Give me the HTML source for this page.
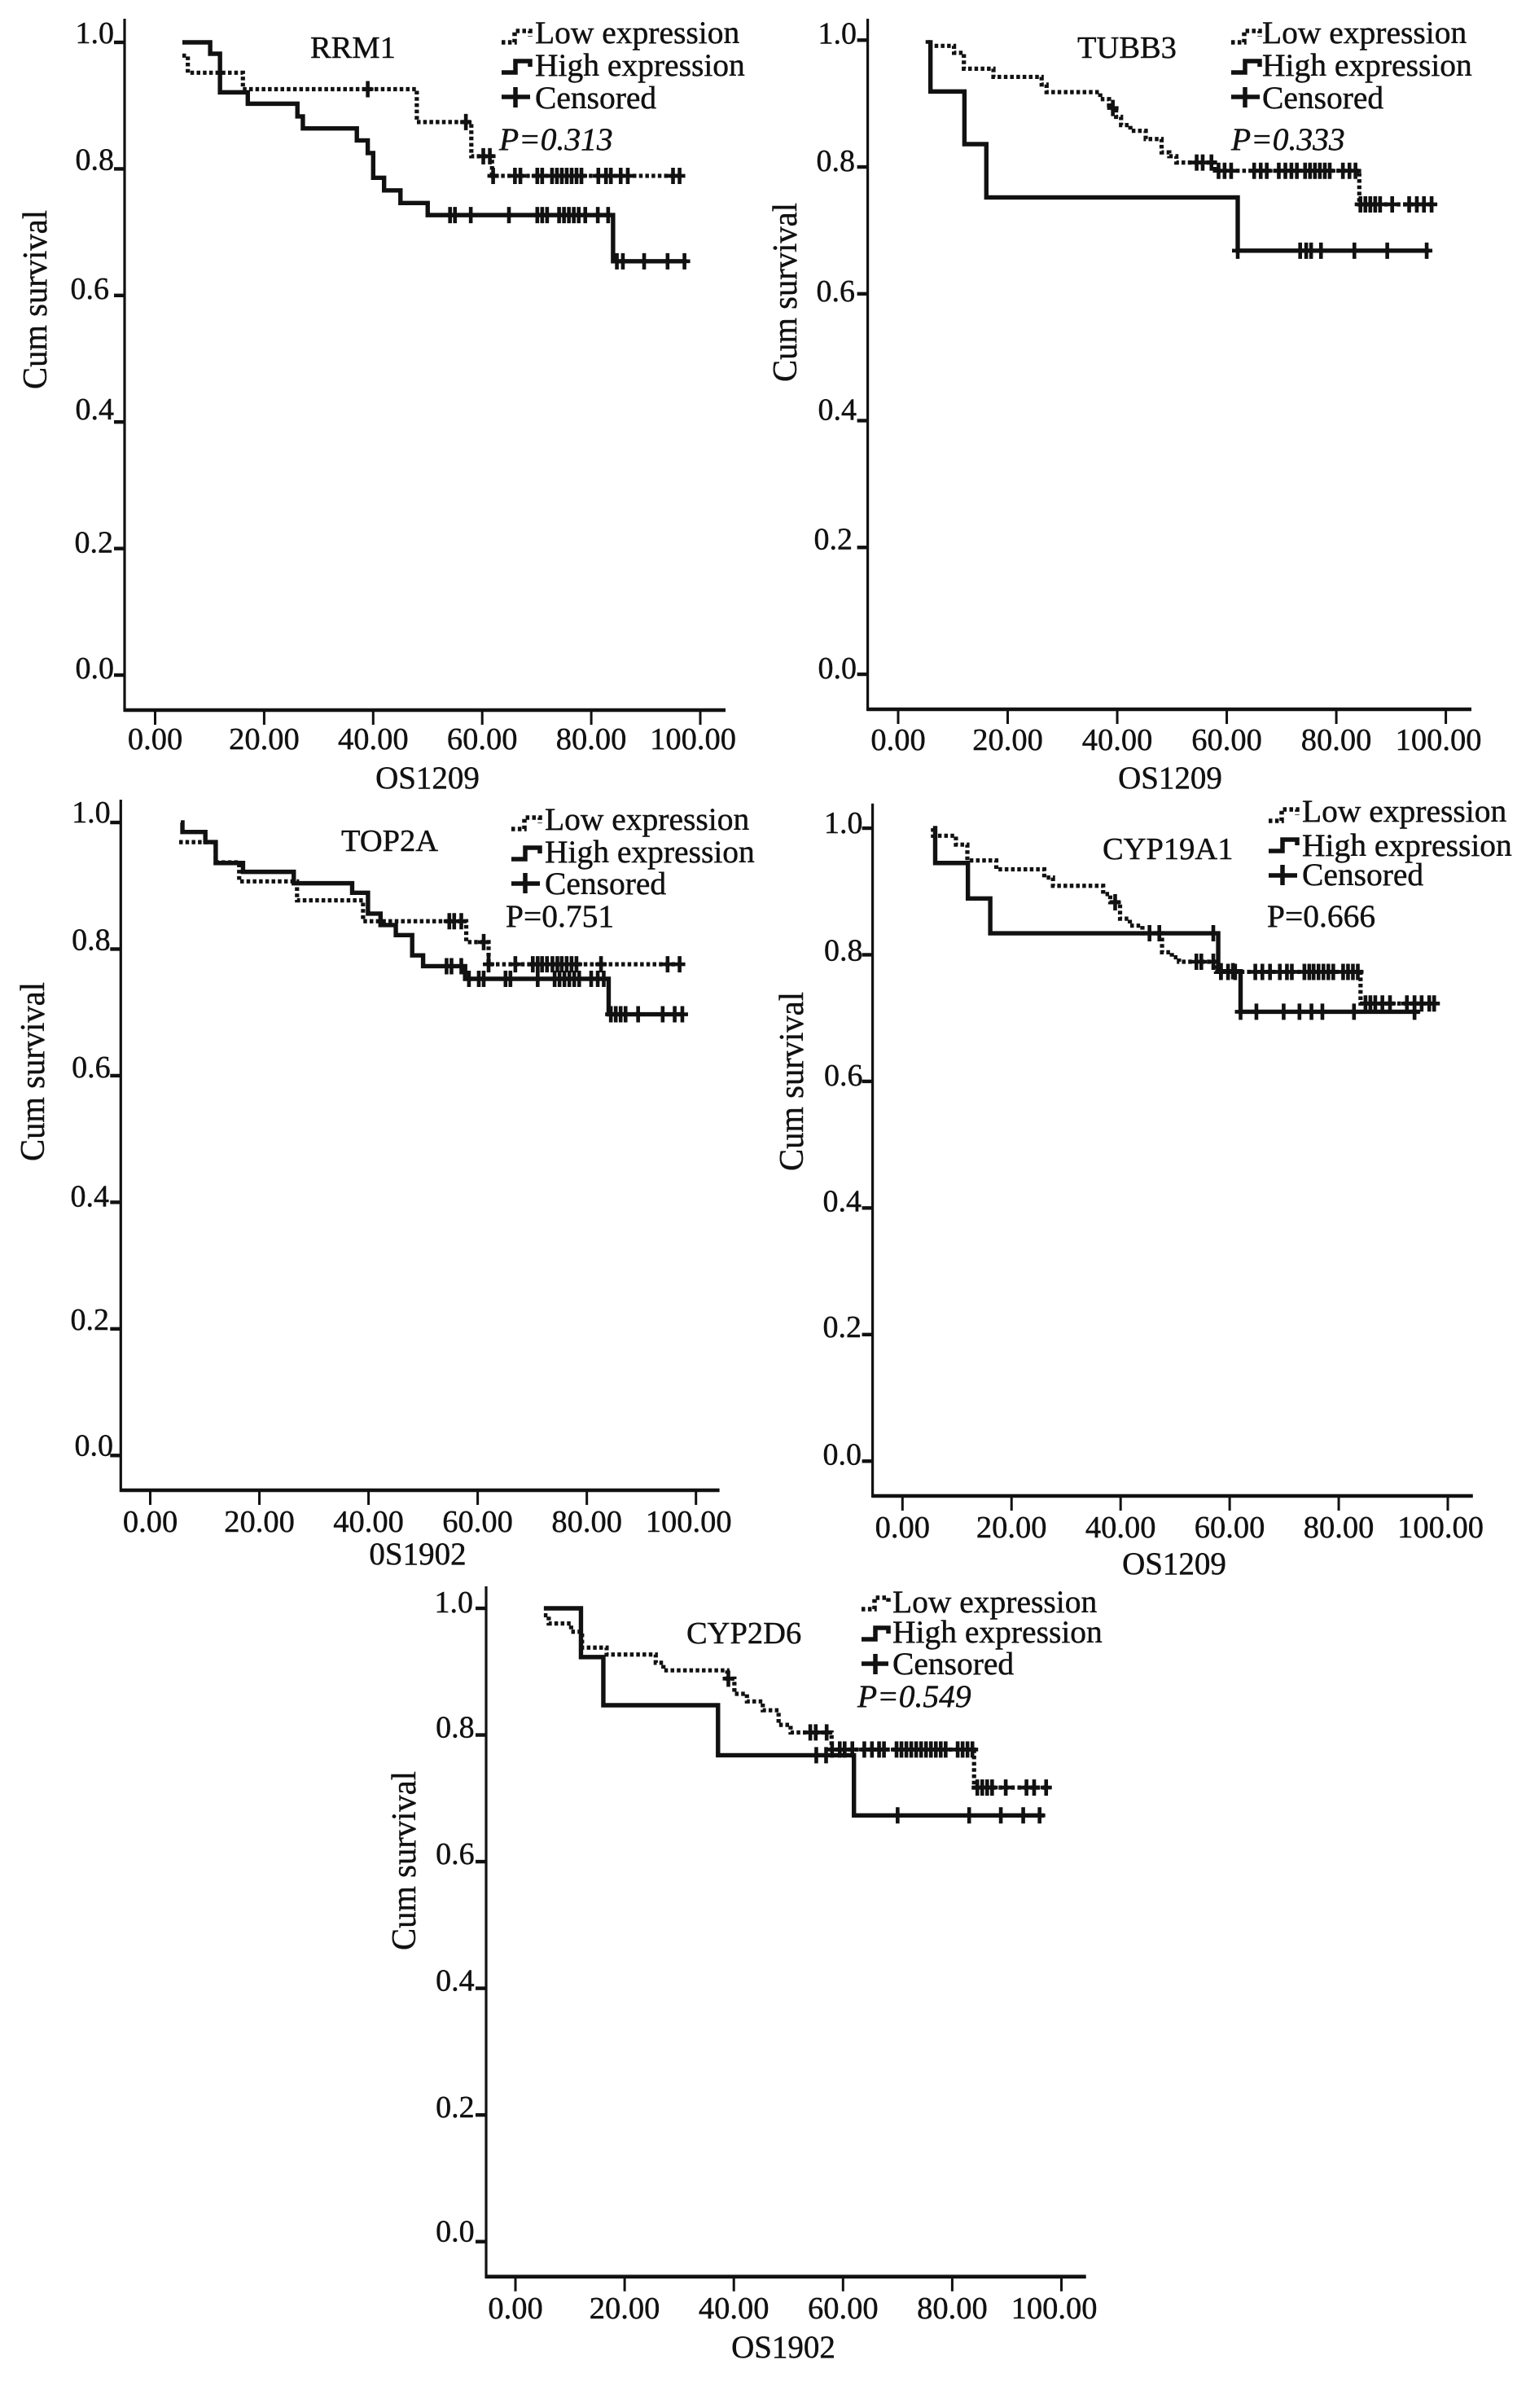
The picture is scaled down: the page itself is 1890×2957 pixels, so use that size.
<!DOCTYPE html>
<html lang="en">
<head>
<meta charset="utf-8">
<title>Kaplan-Meier survival curves by gene expression</title>
<style>
html,body{margin:0;padding:0;background:#fff;}
svg{display:block;}
text{font-family:"Liberation Serif","Times New Roman",serif;fill:#111;stroke:#111;stroke-width:.45px;}
.lg{font-size:39.5px;}
.ti{font-size:38.5px;}
.pv{font-size:39.5px;}
.it{font-style:italic;}
.xt{font-size:39px;text-anchor:middle;}
.yt{font-size:42px;}
.sym{fill:none;stroke:#111;stroke-width:5.5;}
.dot{stroke-dasharray:4.5 3.4;}
</style>
</head>
<body>
<svg id="fig" xmlns="http://www.w3.org/2000/svg" width="1890" height="2957" viewBox="0 0 1890 2957">
<rect width="1890" height="2957" fill="#fff"/>

<g id="rrm1">
  <text class="ti" x="381" y="71">RRM1</text>
  <g>
    <path class="sym dot" d="M616 52H632V38H651V45"/>
    <text class="lg" x="657" y="53">Low expression</text>
    <path class="sym" d="M616 89H633V75H651V82"/>
    <text class="lg" x="657" y="93">High expression</text>
    <path class="sym" d="M616 119H651M633 107V132"/>
    <text class="lg" x="657" y="133">Censored</text>
  </g>
  <text class="pv it" x="613" y="184">P=0.313</text>
  <text class="yt" textLength="220" lengthAdjust="spacingAndGlyphs" text-anchor="middle" transform="translate(57 368) rotate(-90)">Cum survival</text>
  <text class="xt" x="525" y="968">OS1209</text>
</g>

<g id="tubb3">
  <text class="ti" x="1323" y="71">TUBB3</text>
  <g>
    <path class="sym dot" d="M1512 52H1528V38H1547V45"/>
    <text class="lg" x="1550" y="53">Low expression</text>
    <path class="sym" d="M1512 89H1529V75H1547V82"/>
    <text class="lg" x="1550" y="93">High expression</text>
    <path class="sym" d="M1512 119H1547M1529 107V132"/>
    <text class="lg" x="1550" y="133">Censored</text>
  </g>
  <text class="pv it" x="1512" y="184">P=0.333</text>
  <text class="yt" textLength="220" lengthAdjust="spacingAndGlyphs" text-anchor="middle" transform="translate(978 359) rotate(-90)">Cum survival</text>
  <text class="xt" x="1437" y="968">OS1209</text>
</g>

<g id="top2a">
  <text class="ti" x="419" y="1045">TOP2A</text>
  <g>
    <path class="sym dot" d="M628 1018H644V1004H663V1011"/>
    <text class="lg" x="669" y="1019">Low expression</text>
    <path class="sym" d="M628 1055H645V1041H663V1048"/>
    <text class="lg" x="669" y="1059">High expression</text>
    <path class="sym" d="M628 1085H663M645 1072V1097"/>
    <text class="lg" x="669" y="1098">Censored</text>
  </g>
  <text class="pv" x="621" y="1138">P=0.751</text>
  <text class="yt" textLength="220" lengthAdjust="spacingAndGlyphs" text-anchor="middle" transform="translate(54 1316) rotate(-90)">Cum survival</text>
  <text class="xt" x="513" y="1921">0S1902</text>
</g>

<g id="cyp19a1">
  <text class="ti" x="1354" y="1055">CYP19A1</text>
  <g>
    <path class="sym dot" d="M1558 1008H1574V994H1593V1001"/>
    <text class="lg" x="1599" y="1009">Low expression</text>
    <path class="sym" d="M1558 1045H1575V1031H1593V1038"/>
    <text class="lg" x="1599" y="1051">High expression</text>
    <path class="sym" d="M1558 1075H1593M1575 1062V1087"/>
    <text class="lg" x="1599" y="1087">Censored</text>
  </g>
  <text class="pv" x="1556" y="1138">P=0.666</text>
  <text class="yt" textLength="220" lengthAdjust="spacingAndGlyphs" text-anchor="middle" transform="translate(986 1328) rotate(-90)">Cum survival</text>
  <text class="xt" x="1442" y="1933">OS1209</text>
</g>

<g id="cyp2d6">
  <text class="ti" x="843" y="2018">CYP2D6</text>
  <g>
    <path class="sym dot" d="M1058 1976H1074V1962H1091V1969"/>
    <text class="lg" x="1096" y="1980">Low expression</text>
    <path class="sym" d="M1058 2013H1075V1999H1091V2006"/>
    <text class="lg" x="1096" y="2017">High expression</text>
    <path class="sym" d="M1058 2043H1091M1075 2031V2056"/>
    <text class="lg" x="1096" y="2056">Censored</text>
  </g>
  <text class="pv it" x="1053" y="2096">P=0.549</text>
  <text class="yt" textLength="220" lengthAdjust="spacingAndGlyphs" text-anchor="middle" transform="translate(510 2285) rotate(-90)">Cum survival</text>
  <text class="xt" x="962" y="2895">OS1902</text>
</g>
</svg>

<script>
// ---- shared axis ticks ----
const yTickValues = [1.0, 0.8, 0.6, 0.4, 0.2, 0.0];
const yTickLabels = ['1.0', '0.8', '0.6', '0.4', '0.2', '0.0'];
const xTickValues = [0, 20, 40, 60, 80, 100];
const xTickLabels = ['0.00', '20.00', '40.00', '60.00', '80.00', '100.00'];

// ---- RRM1 ----
const rrm1LowTimes = [5, 6, 16.1, 48, 58, 61.8];
const rrm1LowSurvival = [0.979, 0.952, 0.926, 0.874, 0.82, 0.789];
const rrm1LowEnd = [96.6];
const rrm1LowCensored = [39, 57, 60.2, 61.4, 62, 66, 67, 70.1, 71, 72.8, 73.7, 74.6, 75.5, 76.4, 77.3, 78.2, 81.3, 82.7, 83.6, 85.4, 86.7, 95, 96.2];
const rrm1HighTimes = [5, 10.1, 11.9, 17, 26.1, 27.1, 37, 39, 40, 42, 45, 50, 84];
const rrm1HighSurvival = [1.0, 0.982, 0.921, 0.903, 0.883, 0.864, 0.845, 0.825, 0.786, 0.766, 0.746, 0.727, 0.654];
const rrm1HighEnd = [97.5];
const rrm1HighCensored = [54.1, 55, 57.9, 64.9, 70.1, 71, 71.9, 74.1, 75, 75.9, 76.8, 77.7, 78.9, 81.2, 83.1, 84.7, 85.8, 89.7, 94, 97.1];

// ---- TUBB3 ----
const tubb3LowTimes = [5.4, 5.4, 10.2, 12, 17.4, 26.2, 27.1, 36.9, 38.5, 39.8, 40.7, 42.4, 45.2, 48.1, 49.5, 50.8, 57.8, 84.2];
const tubb3LowSurvival = [1.0, 0.991, 0.98, 0.955, 0.942, 0.93, 0.918, 0.907, 0.893, 0.879, 0.866, 0.857, 0.844, 0.823, 0.817, 0.807, 0.794, 0.741];
const tubb3LowEnd = [97.8];
const tubb3LowCensored = [39.2, 54.5, 55.6, 57.2, 58.5, 59.6, 60.8, 65, 66.2, 67.3, 69.5, 70.7, 71.8, 72.8, 74.3, 75.2, 76.1, 77, 77.9, 78.8, 81.2, 82.4, 83.5, 84.4, 85.3, 86.2, 87.1, 88, 90.2, 93.3, 94.7, 96, 97.4];
const tubb3HighTimes = [5.9, 5.9, 12.1, 16.1, 62];
const tubb3HighSurvival = [1.0, 0.919, 0.836, 0.752, 0.668];
const tubb3HighEnd = [96.9];
const tubb3HighCensored = [62, 73.4, 74.5, 75.4, 77.2, 83.3, 89.3, 96.5];

// ---- TOP2A ----
const top2aLowTimes = [5.3, 12, 16.3, 26.9, 39, 57.9, 62];
const top2aLowSurvival = [0.969, 0.937, 0.907, 0.877, 0.844, 0.811, 0.776];
const top2aLowEnd = [97.5];
const top2aLowCensored = [54.8, 55.7, 57, 61.1, 62, 66.9, 70.1, 71, 71.8, 72.7, 73.7, 74.6, 75.4, 76.3, 77.2, 78.1, 82.6, 94.8, 97];
const top2aHighTimes = [5.6, 5.9, 10.1, 12, 17, 26.3, 37, 39.9, 42.2, 45, 48, 50, 57.7, 84];
const top2aHighSurvival = [1.0, 0.985, 0.969, 0.936, 0.922, 0.904, 0.889, 0.856, 0.838, 0.822, 0.79, 0.773, 0.753, 0.697];
const top2aHighEnd = [97.5];
const top2aHighCensored = [54.3, 55.2, 57, 58.4, 60.2, 61.1, 65.1, 66, 71, 74.1, 75, 75.9, 76.8, 77.7, 78.6, 80.8, 82, 83.1, 84.4, 85.3, 86.2, 87.1, 89.4, 93.9, 96.1, 97.5];

// ---- CYP19A1 ----
const cyp19a1LowTimes = [5.6, 5.6, 9.8, 11.9, 17.2, 26, 27.6, 36.8, 38.1, 39.9, 41.7, 44, 47.6, 49.4, 50.7, 57.5, 84];
const cyp19a1LowSurvival = [1.0, 0.988, 0.974, 0.949, 0.935, 0.922, 0.909, 0.896, 0.883, 0.857, 0.846, 0.834, 0.804, 0.796, 0.789, 0.773, 0.723];
const cyp19a1LowEnd = [97.5];
const cyp19a1LowCensored = [39, 45.3, 47.1, 53.9, 54.8, 57, 58.4, 59.7, 61, 64.7, 66, 67.4, 69.2, 70.5, 71.4, 73.7, 74.6, 75.4, 76.3, 77.2, 78.1, 79, 80.8, 81.7, 82.6, 83.5, 84.9, 85.8, 86.7, 88, 89.4, 92.5, 93.9, 95.2, 96.6, 97.5];
const cyp19a1HighTimes = [5.6, 6, 12, 16.1, 57.9, 62];
const cyp19a1HighSurvival = [1.0, 0.945, 0.889, 0.834, 0.774, 0.71];
const cyp19a1HighEnd = [94.8];
const cyp19a1HighCensored = [57, 58.4, 60.6, 62, 64.9, 69.9, 72.8, 75, 77, 82.8, 93.9];

// ---- CYP2D6 ----
const cyp2d6LowTimes = [5.2, 6.1, 10.2, 12.2, 16.7, 25.7, 27.1, 38.8, 40.1, 42.4, 45.3, 48.2, 50.4, 57.9, 84];
const cyp2d6LowSurvival = [0.989, 0.976, 0.963, 0.938, 0.927, 0.914, 0.902, 0.889, 0.865, 0.853, 0.839, 0.816, 0.804, 0.777, 0.717];
const cyp2d6LowEnd = [97.7];
const cyp2d6LowCensored = [39, 54, 55, 57, 58, 59.4, 60.3, 61.7, 63.9, 65.3, 66.6, 67.5, 69.8, 70.7, 71.6, 72.5, 73.4, 74.3, 75.2, 76.1, 77, 77.9, 78.8, 81, 81.9, 82.8, 83.7, 84.6, 85.5, 86.4, 87.3, 89.8, 93.6, 95, 97.2];
const cyp2d6HighTimes = [5.2, 12, 16.1, 37.1, 62];
const cyp2d6HighSurvival = [1.0, 0.923, 0.847, 0.768, 0.673];
const cyp2d6HighEnd = [96.8];
const cyp2d6HighCensored = [55.1, 56.9, 70, 83.1, 88.9, 93, 96];

// ---- panel geometry (pixels) ----
const layouts = [
  {id:'rrm1', axisX:153, top:23, y1:52, y0:829, bottom:872, right:891, x0:190.5, x100:860, tickBase:920,
   labelDy:[1,1,4,-3,5,4], labelRight:[140,140,134,140,139,140]},
  {id:'tubb3', axisX:1065.6, top:23, y1:49.3, y0:828, bottom:871, right:1807, x0:1103, x100:1775.6, tickBase:921,
   labelDy:[4,5,9,-1,2,5], labelRight:[1052,1050,1050,1052,1047,1052]},
  {id:'top2a', axisX:148.3, top:982, y1:1010, y0:1787.3, bottom:1830, right:883.6, x0:184.5, x100:854.7, tickBase:1881,
   labelDy:[0,1,2,5,1,0], labelRight:[135.6,135.6,135.6,134,134,139]},
  {id:'cyp19a1', axisX:1071.6, top:986.7, y1:1017, y0:1794.3, bottom:1837, right:1808.8, x0:1108.3, x100:1778, tickBase:1888,
   labelDy:[6,7,5,4,3,4], labelRight:[1059.5,1059.5,1059.5,1058,1058,1058]},
  {id:'cyp2d6', axisX:597, top:1948, y1:1975, y0:2752.7, bottom:2795.7, right:1333.7, x0:633, x100:1303.5, tickBase:2847,
   labelDy:[5,3,3,3,3,0], labelRight:[581,582.6,582.6,582.6,582.6,582.6]}
];

const series = {
  rrm1:{low:[rrm1LowTimes,rrm1LowSurvival,rrm1LowEnd,rrm1LowCensored],high:[rrm1HighTimes,rrm1HighSurvival,rrm1HighEnd,rrm1HighCensored]},
  tubb3:{low:[tubb3LowTimes,tubb3LowSurvival,tubb3LowEnd,tubb3LowCensored],high:[tubb3HighTimes,tubb3HighSurvival,tubb3HighEnd,tubb3HighCensored]},
  top2a:{low:[top2aLowTimes,top2aLowSurvival,top2aLowEnd,top2aLowCensored],high:[top2aHighTimes,top2aHighSurvival,top2aHighEnd,top2aHighCensored]},
  cyp19a1:{low:[cyp19a1LowTimes,cyp19a1LowSurvival,cyp19a1LowEnd,cyp19a1LowCensored],high:[cyp19a1HighTimes,cyp19a1HighSurvival,cyp19a1HighEnd,cyp19a1HighCensored]},
  cyp2d6:{low:[cyp2d6LowTimes,cyp2d6LowSurvival,cyp2d6LowEnd,cyp2d6LowCensored],high:[cyp2d6HighTimes,cyp2d6HighSurvival,cyp2d6HighEnd,cyp2d6HighCensored]}
};

const NS = 'http://www.w3.org/2000/svg';

function svgLine(parent, d, width) {
  const el = document.createElementNS(NS, 'path');
  el.setAttribute('d', d);
  el.setAttribute('fill', 'none');
  el.setAttribute('stroke', '#111');
  el.setAttribute('stroke-width', width);
  parent.appendChild(el);
  return el;
}

function stepLevel(times, surv, t) {
  let s = surv[0];
  for (let i = 0; i < times.length; i++) {
    if (times[i] <= t) s = surv[i];
  }
  return s;
}

function drawSeries(g, sx, sy, data, dashed, kind) {
  const times = data[0], surv = data[1], end = data[2][0], cens = data[3];
  let d = 'M' + sx(times[0]) + ' ' + sy(surv[0]);
  for (let i = 1; i < times.length; i++) {
    d += 'H' + sx(times[i]) + 'V' + sy(surv[i]);
  }
  d += 'H' + sx(end);
  const curve = svgLine(g, d, dashed ? 5.2 : 5.4);
  
  
  if (dashed) curve.setAttribute('stroke-dasharray', '4.5 3.2');
  cens.forEach(function (t) {
    const x = sx(t), y = sy(stepLevel(times, surv, t));
    const mark = svgLine(g, 'M' + (x - 7) + ' ' + y + 'H' + (x + 7) + 'M' + x + ' ' + (y - 10) + 'V' + (y + 10), 4.6);
    
    
  });
}

layouts.forEach(function (p) {
  const g = document.getElementById(p.id);
  const sx = function (t) { return +(p.x0 + (p.x100 - p.x0) * t / 100).toFixed(2); };
  const sy = function (s) { return +(p.y0 + (p.y1 - p.y0) * s).toFixed(2); };

  const yAxis = svgLine(g, 'M' + p.axisX + ' ' + p.top + 'V' + (p.bottom + 2), 3.2);
  
  

  const xAxis = svgLine(g, 'M' + (p.axisX - 1) + ' ' + p.bottom + 'H' + p.right, 4.6);
  
  

  yTickValues.forEach(function (v, i) {
    const y = sy(v);
    const tick = svgLine(g, 'M' + (p.axisX - 13) + ' ' + y + 'H' + p.axisX, 4.4);
    
    
    const lab = document.createElementNS(NS, 'text');
    lab.setAttribute('x', p.labelRight[i]);
    lab.setAttribute('y', y + p.labelDy[i]);
    lab.setAttribute('text-anchor', 'end');
    lab.setAttribute('font-size', '38');
    
    
    lab.textContent = yTickLabels[i];
    g.appendChild(lab);
  });

  xTickValues.forEach(function (v, i) {
    const x = sx(v);
    const tick = svgLine(g, 'M' + x + ' ' + p.bottom + 'V' + (p.bottom + 18), 3);
    
    
    const lab = document.createElementNS(NS, 'text');
    lab.setAttribute('x', x - (v === 100 ? 9 : 0));
    lab.setAttribute('y', p.tickBase);
    lab.setAttribute('text-anchor', 'middle');
    lab.setAttribute('font-size', '38.5');
    
    
    lab.textContent = xTickLabels[i];
    g.appendChild(lab);
  });

  drawSeries(g, sx, sy, series[p.id].low, true, 'low');
  drawSeries(g, sx, sy, series[p.id].high, false, 'high');
});
</script>
</body>
</html>
